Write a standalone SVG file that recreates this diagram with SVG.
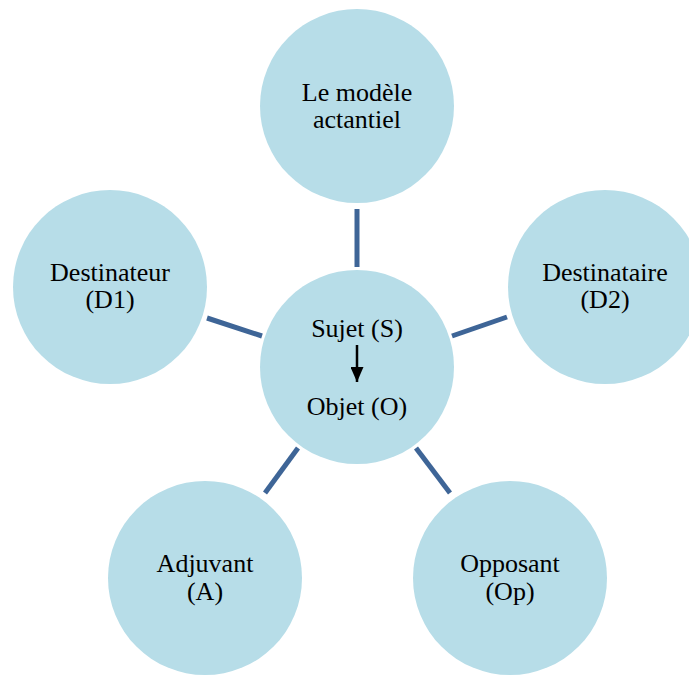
<svg xmlns="http://www.w3.org/2000/svg" width="689" height="675" viewBox="0 0 689 675">
<style>
.n{fill:#B7DDE8;}
.t{font-family:"Liberation Serif","Times New Roman",serif;font-size:26px;fill:#000;text-anchor:middle;}
.c{stroke:#3E6597;stroke-width:5;fill:none;}
</style>
<defs>
<marker id="ah" markerWidth="15" markerHeight="13" refX="15" refY="6.5" orient="auto" markerUnits="userSpaceOnUse" viewBox="0 0 15 13">
<path d="M0,0 L15,6.5 L0,13 Z" fill="#000"/>
</marker>
</defs>
<rect width="689" height="675" fill="#fff"/>
<g id="connectors">
<line class="c" x1="357" y1="209" x2="357" y2="267"/>
<line class="c" x1="207" y1="318" x2="262" y2="336"/>
<line class="c" x1="452" y1="336" x2="507" y2="317"/>
<line class="c" x1="298" y1="448" x2="265" y2="493"/>
<line class="c" x1="416" y1="448" x2="450" y2="493"/>
</g>
<g id="top">
<circle class="n" cx="357" cy="106" r="97"/>
<text class="t" x="357" y="101">Le modèle</text>
<text class="t" x="357" y="128">actantiel</text>
</g>
<g id="left">
<circle class="n" cx="110" cy="287" r="97"/>
<text class="t" x="110" y="281">Destinateur</text>
<text class="t" x="110" y="308">(D1)</text>
</g>
<g id="right">
<circle class="n" cx="605" cy="287" r="97"/>
<text class="t" x="605" y="281">Destinataire</text>
<text class="t" x="605" y="308">(D2)</text>
</g>
<g id="center">
<circle class="n" cx="357" cy="367" r="97"/>
<text class="t" x="357" y="337">Sujet (S)</text>
<line x1="357" y1="345" x2="357" y2="382" stroke="#000" stroke-width="2.5" marker-end="url(#ah)"/>
<text class="t" x="357" y="415">Objet (O)</text>
</g>
<g id="bl">
<circle class="n" cx="205" cy="578" r="97"/>
<text class="t" x="205" y="572">Adjuvant</text>
<text class="t" x="205" y="600">(A)</text>
</g>
<g id="br">
<circle class="n" cx="510" cy="578" r="97"/>
<text class="t" x="510" y="572">Opposant</text>
<text class="t" x="510" y="600">(Op)</text>
</g>
</svg>
